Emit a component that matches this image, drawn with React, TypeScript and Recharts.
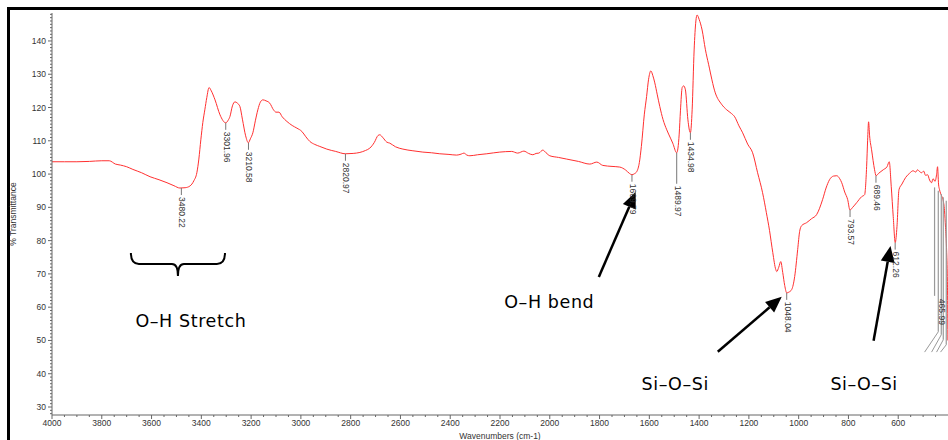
import { LineChart, Line, XAxis, YAxis, ReferenceDot, ReferenceLine } from "recharts";

// FTIR spectrum (wavenumber cm-1, % transmittance)
const wavenumbers = [
  4000, 3950, 3900, 3850, 3800, 3770, 3745, 3725, 3700, 3675, 3640, 3606, 3570, 3538, 3510, 3486, 3465, 3446, 3430,
  3418, 3410, 3402, 3394, 3386, 3378, 3369, 3360, 3345, 3325, 3302, 3292, 3285, 3275, 3265, 3255, 3245, 3235, 3222,
  3211, 3203, 3193, 3183, 3173, 3163, 3153, 3140, 3125, 3110, 3100, 3088, 3075, 3056, 3035, 3016, 2996, 2980, 2964,
  2944, 2924, 2896, 2860, 2821, 2790, 2763, 2740, 2723, 2705, 2690, 2683, 2670, 2655, 2643, 2620, 2590, 2550, 2510,
  2475, 2442, 2405, 2374, 2356, 2345, 2333, 2321, 2290, 2253, 2201, 2153, 2129, 2104, 2085, 2068, 2055, 2044, 2028,
  2015, 2000, 1965, 1932, 1885, 1839, 1811, 1787, 1750, 1719, 1695, 1680, 1670, 1660, 1650, 1640, 1632, 1620, 1611,
  1603, 1594, 1586, 1578, 1568, 1558, 1545, 1530, 1515, 1506, 1490, 1480, 1475, 1468, 1462, 1455, 1445, 1435, 1428,
  1420, 1413, 1408, 1400, 1388, 1375, 1362, 1335, 1310, 1289, 1270, 1257, 1240, 1225, 1205, 1185, 1165, 1145, 1130,
  1117, 1104, 1092, 1088, 1080, 1072, 1064, 1056, 1048, 1040, 1028, 1016, 1004, 996, 988, 968, 948, 928, 904, 890,
  876, 860, 847, 835, 827, 815, 803, 794, 783, 767, 747, 735, 727, 723, 719, 715, 707, 695, 689, 679, 660, 645, 636,
  628, 620, 612, 605, 597, 585, 570, 555, 540, 530, 522, 515, 506, 498, 490, 482, 474, 466, 460, 452, 446, 442, 438,
  434, 426, 420, 414, 410, 406, 403, 401.5, 400.5,
];
const transmittance = [
  103.7, 103.7, 103.7, 103.8, 104.0, 104.0, 103.0, 102.7, 102.2, 101.4, 100.4, 99.2, 98.3, 97.4, 96.5, 95.8, 95.9, 96.4,
  98.0, 100.4, 104.5, 110.3, 115.5, 119.3, 123.0, 126.0, 125.0, 122.3, 117.8, 115.4, 116.2, 117.3, 120.5, 121.7, 121.3,
  120.3, 116.5, 111.5, 109.4, 110.6, 112.4, 116.0, 119.3, 121.6, 122.3, 122.0, 121.3, 119.3, 118.6, 118.6, 117.2,
  115.8, 114.6, 113.8, 112.8, 111.2, 109.8, 108.9, 108.3, 107.5, 106.8, 106.1, 106.2, 106.5, 107.1, 107.8, 109.5,
  111.6, 111.8, 110.9, 109.6, 109.3, 108.2, 107.5, 107.0, 106.6, 106.4, 106.1, 105.9, 105.7, 106.0, 106.3, 105.7,
  105.5, 105.8, 106.1, 106.6, 106.8, 106.3, 106.9, 106.2, 105.8, 106.2, 106.3, 107.2, 106.4, 105.5, 105.0, 104.5,
  103.8, 103.0, 103.6, 102.6, 102.3, 102.1, 101.2, 100.2, 99.8, 100.1, 100.8, 103.5, 108.3, 118.0, 123.3, 128.5,
  131.0, 129.6, 127.4, 123.8, 120.3, 116.4, 113.3, 110.8, 109.3, 106.4, 112.0, 119.0, 126.0, 126.5, 125.3, 116.3,
  112.4, 119.3, 137.3, 146.0, 147.8, 146.5, 143.3, 137.5, 133.0, 124.4, 121.0, 119.3, 118.2, 117.2, 114.5, 112.4,
  109.0, 106.4, 100.4, 94.4, 88.5, 83.0, 76.4, 71.3, 70.7, 72.0, 73.7, 70.4, 66.5, 64.3, 64.5, 65.3, 69.2, 77.3, 82.8,
  84.5, 85.4, 86.6, 87.8, 92.3, 95.8, 98.3, 99.4, 99.5, 98.6, 97.4, 94.6, 92.3, 89.2, 90.0, 91.4, 93.2, 93.8, 102.2,
  110.0, 115.7, 111.5, 107.3, 101.3, 99.5, 100.2, 101.3, 102.2, 103.7, 96.2, 87.2, 79.4, 84.2, 95.3, 97.0, 99.0,
  100.2, 101.0, 100.6, 101.3, 100.8, 100.4, 100.9, 99.6, 99.8, 98.2, 97.4, 98.6, 97.8, 99.8, 102.2, 97.0, 95.3, 93.5,
  92.3, 89.0, 84.0, 78.0, 70.0, 62.0, 50.0,
];

// picked peaks
const peakLabels = ["3480.22", "3301.96", "3210.58", "2820.97", "1669.79", "1489.97", "1434.98", "1048.04", "793.57", "689.46", "612.26"];
const peakWavenumbers = [3480.22, 3301.96, 3210.58, 2820.97, 1669.79, 1489.97, 1434.98, 1048.04, 793.57, 689.46, 612.26];
const peakMinima = [95.8, 115.4, 109.4, 106.1, 99.8, 106.4, 112.4, 64.3, 89.2, 99.5, 79.4];

const xTickLabels = [4000, 3800, 3600, 3400, 3200, 3000, 2800, 2600, 2400, 2200, 2000, 1800, 1600, 1400, 1200, 1000, 800, 600];
const yTickLabels = [30, 40, 50, 60, 70, 80, 90, 100, 110, 120, 130, 140];

const data = wavenumbers.map((wn, i) => ({ wn, t: transmittance[i] }));

const xMinor: number[] = [];
for (let v = 450; v <= 4000; v += 50) xMinor.push(v);
const yMinor: number[] = [];
for (let v = 28; v <= 148; v += 1) yMinor.push(v);

const AXIS = "#666";
const TXT = "#333";
const SANS = "'Liberation Sans', Arial, sans-serif";
const NOTE = "'DejaVu Sans', sans-serif";

const XTick = (props: any) => {
  const { x, y, payload } = props;
  const major = xTickLabels.includes(payload.value);
  return (
    <g>
      <line x1={x} y1={y} x2={x} y2={y + (major ? 4 : 2)} stroke={AXIS} />
      {major && (
        <text x={x} y={y + 11} textAnchor="middle" fontSize={8.5} fill={TXT} fontFamily={SANS}>
          {payload.value}
        </text>
      )}
    </g>
  );
};

const YTick = (props: any) => {
  const { x, y, payload } = props;
  const major = yTickLabels.includes(payload.value);
  return (
    <g>
      <line x1={x} y1={y} x2={x - (major ? 4 : 2)} y2={y} stroke={AXIS} />
      {major && (
        <text x={x - 6} y={y + 3} textAnchor="end" fontSize={8.5} fill={TXT} fontFamily={SANS}>
          {payload.value}
        </text>
      )}
    </g>
  );
};

// rotated peak label with a little grey tick under the minimum
const peakShape = (text: string, lead: number) => (p: any) => (
  <g>
    <line x1={p.cx} y1={p.cy} x2={p.cx} y2={p.cy + lead} stroke="#777" />
    <text
      transform={`translate(${p.cx - 2},${p.cy + lead + 2}) rotate(90)`}
      fontSize={8.5}
      fill={TXT}
      fontFamily={SANS}
    >
      {text}
    </text>
  </g>
);

const noteShape = (text: string) => (p: any) => (
  <text x={p.cx} y={p.cy} textAnchor="middle" fontSize={17.5} letterSpacing={0.6} fill="#000" fontFamily={NOTE}>
    {text}
  </text>
);

const arrowShape = (p: any) => {
  const { x1, y1, x2, y2 } = p;
  const a = Math.atan2(y2 - y1, x2 - x1);
  const len = 16;
  const w = 7;
  const bx = x2 - len * Math.cos(a);
  const by = y2 - len * Math.sin(a);
  const nx = -Math.sin(a) * w;
  const ny = Math.cos(a) * w;
  return (
    <g>
      <line x1={x1} y1={y1} x2={bx} y2={by} stroke="#000" strokeWidth={2.5} />
      <polygon points={`${x2},${y2} ${bx + nx},${by + ny} ${bx - nx},${by - ny}`} fill="#000" />
    </g>
  );
};

const braceShape = (p: any) => {
  const L = Math.min(p.x1, p.x2);
  const R = Math.max(p.x1, p.x2);
  const y = p.y1;
  const c = (L + R) / 2;
  const d = `M${L},${y - 11} Q${L},${y} ${L + 8},${y} L${c - 6},${y} Q${c},${y} ${c},${y + 12} Q${c},${y} ${c + 6},${y} L${R - 8},${y} Q${R},${y} ${R},${y - 11}`;
  return <path d={d} fill="none" stroke="#000" strokeWidth={2} />;
};

// leader lines of the crowded peak labels at the cut-off right edge
const leaderTops = [454, 439, 427, 419, 407];
const leaderBottoms = [63.4, 52.6, 51.7, 50.2, 48.7];
const leaderFeet = [0, 494, 466, 446, 430];

export default function App() {
  return (
    <div style={{ position: "fixed", left: 0, top: 0, width: 948, height: 440, background: "#fff", overflow: "hidden" }}>
      <div
        style={{
          position: "absolute",
          left: 7,
          top: 7,
          width: 945,
          height: 440,
          borderLeft: "3px solid #000",
          borderTop: "3px solid #000",
        }}
      />
      <div style={{ position: "absolute", left: 0, top: 0 }}>
        <LineChart width={948} height={440} data={data} margin={{ top: 13, right: 0, bottom: 0, left: 8 }}>
          <XAxis
            type="number"
            dataKey="wn"
            domain={[400, 4000]}
            reversed
            allowDataOverflow
            ticks={xMinor}
            interval={0}
            height={25}
            tickSize={0}
            tickMargin={0}
            tickLine={false}
            tick={<XTick />}
            stroke={AXIS}
            label={{ value: "Wavenumbers (cm-1)", position: "insideBottom", offset: 1, fontSize: 8.5, fill: TXT, fontFamily: SANS }}
          />
          <YAxis
            type="number"
            domain={[27.6, 148.4]}
            allowDataOverflow
            ticks={yMinor}
            interval={0}
            width={44}
            tickSize={0}
            tickMargin={0}
            tickLine={false}
            tick={<YTick />}
            stroke={AXIS}
            label={{
              content: (props: any) => {
                const vb = props.viewBox || {};
                const cx = (vb.x ?? 8) + 8;
                const cy = (vb.y ?? 13) + (vb.height ?? 402) / 2;
                return (
                  <text
                    transform={`translate(${cx},${cy}) rotate(-90)`}
                    textAnchor="middle"
                    fontSize={8.5}
                    fill={TXT}
                    fontFamily={SANS}
                  >
                    % Transmittance
                  </text>
                );
              },
            }}
          />
          <Line type="monotone" dataKey="t" stroke="#ff3030" strokeWidth={1} dot={false} isAnimationActive={false} />

          {peakWavenumbers.map((wn, i) => (
            <ReferenceDot
              key={peakLabels[i]}
              x={wn}
              y={peakMinima[i]}
              r={0}
              ifOverflow="visible"
              shape={peakShape(peakLabels[i], peakLabels[i] === "1489.97" ? 31 : 7)}
            />
          ))}

          {leaderTops.map((wn, i) => (
            <ReferenceLine
              key={`lv${i}`}
              segment={[{ x: wn, y: 96 - i }, { x: wn, y: leaderBottoms[i] }]}
              stroke="#999"
              strokeWidth={1.2}
              ifOverflow="visible"
            />
          ))}
          {leaderTops.map((wn, i) =>
            leaderFeet[i] ? (
              <ReferenceLine
                key={`ld${i}`}
                segment={[{ x: wn, y: leaderBottoms[i] }, { x: leaderFeet[i], y: 46.5 }]}
                stroke="#999"
                strokeWidth={1}
                ifOverflow="visible"
              />
            ) : null
          )}
          <ReferenceDot x={430} y={63.1} r={0} ifOverflow="visible" shape={peakShape("465.99", 0)} />

          <ReferenceLine segment={[{ x: 3683, y: 73.0 }, { x: 3305, y: 73.0 }]} ifOverflow="visible" shape={braceShape} />
          <ReferenceLine segment={[{ x: 1803, y: 69.1 }, { x: 1655, y: 94.6 }]} ifOverflow="visible" shape={arrowShape} />
          <ReferenceLine segment={[{ x: 1325, y: 46.6 }, { x: 1068, y: 63.1 }]} ifOverflow="visible" shape={arrowShape} />
          <ReferenceLine segment={[{ x: 699, y: 49.9 }, { x: 631, y: 78.4 }]} ifOverflow="visible" shape={arrowShape} />

          <ReferenceDot x={3442} y={54.1} r={0} ifOverflow="visible" shape={noteShape("O–H Stretch")} />
          <ReferenceDot x={2002} y={59.8} r={0} ifOverflow="visible" shape={noteShape("O–H bend")} />
          <ReferenceDot x={1496} y={35.1} r={0} ifOverflow="visible" shape={noteShape("Si–O–Si")} />
          <ReferenceDot x={737} y={35.1} r={0} ifOverflow="visible" shape={noteShape("Si–O–Si")} />
        </LineChart>
      </div>
    </div>
  );
}
